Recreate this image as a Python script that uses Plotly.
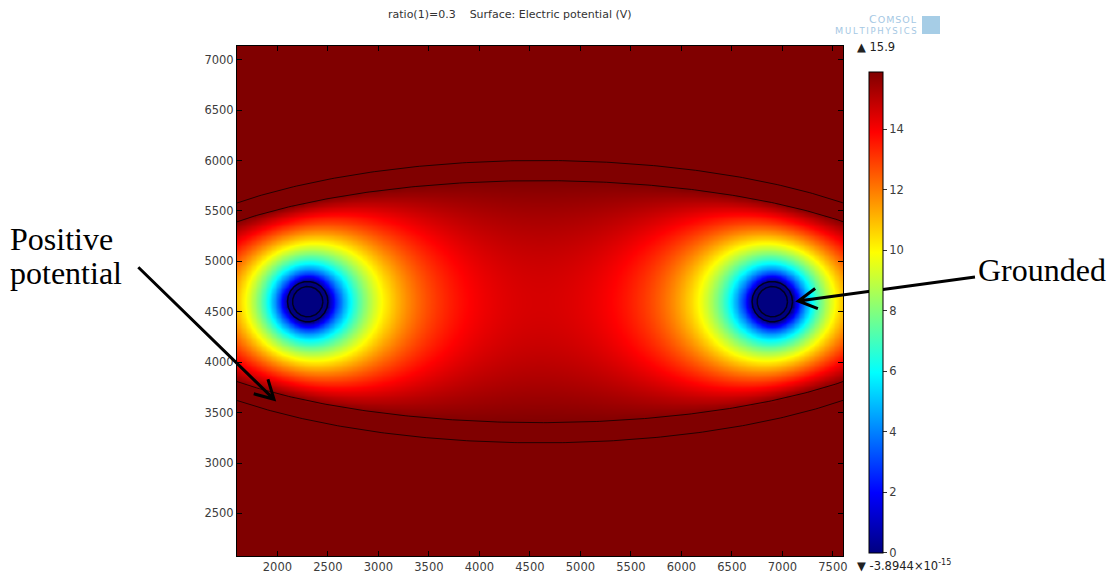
import numpy as np
import plotly.graph_objects as go

# ---- model geometry (model units) ----
ellipse_center = [4600.0, 4600.0]
inner_semi_axes = [4000.0, 1200.0]     # electrode boundary held at the positive potential
outer_semi_axes = [4200.0, 1400.0]
wire_x = [2300.0, 6900.0]
wire_y = [4600.0, 4600.0]
wire_radii = [150.0, 200.0]            # conductor and insulation outlines
ground_radius = 210.0                  # extent of the grounded region around each wire

# ---- potentials ----
v_positive = 15.9
v_ground = 0.0
v_max_label = "15.9"
v_min_label = "-3.8944×10<sup>-15</sup>"

# ---- axes ----
x_range = [1600, 7600]
y_range = [2078, 7135]
cbar_ticks = [0, 2, 4, 6, 8, 10, 12, 14]
title_text = "ratio(1)=0.3\u00a0\u00a0\u00a0 Surface: Electric potential (V)"

# ---- Laplace solve inside the inner ellipse (red-black SOR) ----
h = 25.0
sx = np.arange(575.0, 8625.0 + h / 2, h)
sy = np.arange(3375.0, 5825.0 + h / 2, h)
SX, SY = np.meshgrid(sx, sy)
cx, cy = ellipse_center
a_in, b_in = inner_semi_axes
inside = ((SX - cx) / a_in) ** 2 + ((SY - cy) / b_in) ** 2 < 1.0
grounded = np.zeros(SX.shape, dtype=bool)
for wx, wy in zip(wire_x, wire_y):
    grounded |= (SX - wx) ** 2 + (SY - wy) ** 2 <= ground_radius ** 2
free = inside & ~grounded
V = np.full(SX.shape, v_positive)
V[grounded] = v_ground
ii, jj = np.indices(V.shape)
masks = [free & ((ii + jj) % 2 == 0), free & ((ii + jj) % 2 == 1)]
omega = 1.94
for _ in range(2500):
    for m in masks:
        nb = 0.25 * (np.roll(V, 1, 0) + np.roll(V, -1, 0) + np.roll(V, 1, 1) + np.roll(V, -1, 1))
        V[m] += omega * (nb[m] - V[m])

# ---- surface grid covering the view ----
gx = np.arange(1600.0, 7600.0 + h / 2, h)
gy = np.arange(2075.0, 7150.0 + h / 2, h)
Z = np.full((len(gy), len(gx)), v_positive)
i0 = int(round((sy[0] - gy[0]) / h))
j0 = int(round((gx[0] - sx[0]) / h))
Z[i0:i0 + len(sy), :] = V[:, j0:j0 + len(gx)]

jet = [[0.0, "rgb(0,0,128)"], [0.125, "rgb(0,0,255)"], [0.375, "rgb(0,255,255)"],
       [0.625, "rgb(255,255,0)"], [0.875, "rgb(255,0,0)"], [1.0, "rgb(128,0,0)"]]

W, H = 1112, 579
ML, MR, MT, MB = 237, 269, 46, 23
PW, PH = W - ML - MR, H - MT - MB


def px(x):
    return (x - ML) / PW


def py(y):
    return (H - MB - y) / PH


fig = go.Figure()
fig.add_trace(go.Heatmap(
    x=gx, y=gy, z=Z, zmin=v_ground, zmax=v_positive, colorscale=jet, zsmooth="best",
    hoverinfo="skip",
    colorbar=dict(
        thickness=14, thicknessmode="pixels", len=481, lenmode="pixels",
        xref="paper", x=px(869), xanchor="left", xpad=0,
        yref="paper", y=py(552.7), yanchor="bottom", ypad=0,
        outlinewidth=1, outlinecolor="black",
        tickvals=cbar_ticks, ticks="outside", ticklen=4, tickcolor="#333",
        tickfont=dict(family="DejaVu Sans", size=11.5, color="#3c3c3c"),
    ),
))

# boundary outlines
t = np.linspace(0, 2 * np.pi, 721)
for sa, sb in (inner_semi_axes, outer_semi_axes):
    fig.add_trace(go.Scatter(x=cx + sa * np.cos(t), y=cy + sb * np.sin(t), mode="lines",
                             line=dict(color="rgba(20,0,0,0.85)", width=1), hoverinfo="skip"))
for wx, wy in zip(wire_x, wire_y):
    for r in wire_radii:
        fig.add_trace(go.Scatter(x=wx + r * np.cos(t), y=wy + r * np.sin(t), mode="lines",
                                 line=dict(color="rgba(0,0,20,0.9)", width=1.5), hoverinfo="skip"))

axis_style = dict(showline=True, linecolor="black", linewidth=1, mirror="ticks",
                  ticks="inside", ticklen=5, tickcolor="black", showgrid=False, zeroline=False,
                  dtick=500, tick0=0, automargin=False,
                  tickfont=dict(family="DejaVu Sans", size=11.5, color="#3c3c3c"))
fig.update_xaxes(range=x_range, **axis_style)
fig.update_yaxes(range=y_range, **axis_style)

logo_color = "rgb(165,200,228)"
hs = "\u200a"  # hair space for the logo's letter tracking

ann = []
ann.append(dict(text=title_text, x=px(510), y=py(15), xref="paper", yref="paper",
                showarrow=False, xanchor="center", yanchor="middle",
                font=dict(family="DejaVu Sans", size=11, color="#333")))
ann.append(dict(text="▲ " + v_max_label, x=px(855), y=py(46.7), xref="paper", yref="paper",
                showarrow=False, xanchor="left", yanchor="middle",
                font=dict(family="DejaVu Sans", size=11.5, color="#222")))
ann.append(dict(text="▼ " + v_min_label, x=px(855), y=py(565), xref="paper", yref="paper",
                showarrow=False, xanchor="left", yanchor="middle",
                font=dict(family="DejaVu Sans", size=11.5, color="#222")))
# logo
ann.append(dict(text="C" + hs + "<span style='font-size:9.5px'>" + hs.join("OMSOL") + "</span>",
                x=px(867), y=py(20), xref="paper", yref="paper", showarrow=False,
                xanchor="left", yanchor="middle",
                font=dict(family="DejaVu Sans", size=11, color=logo_color)))
ann.append(dict(text="M\u2009<span style='font-size:8.5px'>" + "\u2009".join("ULTIPHYSICS") + "</span>",
                x=px(833), y=py(30.5), xref="paper", yref="paper", showarrow=False,
                xanchor="left", yanchor="middle",
                font=dict(family="DejaVu Sans", size=9.5, color=logo_color)))
# callouts
serif = dict(family="Liberation Serif", size=32, color="black")
ann.append(dict(text="Positive", x=px(8), y=py(239), xref="paper", yref="paper",
                showarrow=False, xanchor="left", yanchor="middle", font=serif))
ann.append(dict(text="potential", x=px(8), y=py(273), xref="paper", yref="paper",
                showarrow=False, xanchor="left", yanchor="middle", font=serif))
ann.append(dict(text="Grounded", x=px(976), y=py(269.5), xref="paper", yref="paper",
                showarrow=False, xanchor="left", yanchor="middle", font=serif))
fig.update_layout(annotations=ann)


def arrow_path(tail, tip, head_len=21.0, half_angle=29.0):
    tx, ty = tail
    hx, hy = tip
    ang = np.arctan2(ty - hy, tx - hx)
    pts = []
    for s in (1, -1):
        aa = ang + s * np.radians(half_angle)
        pts.append((hx + head_len * np.cos(aa), hy + head_len * np.sin(aa)))
    p = lambda q: f"{px(q[0]):.5f},{py(q[1]):.5f}"
    return (f"M{p(tail)} L{p(tip)} M{p(pts[0])} L{p(tip)} L{p(pts[1])}")


shapes = [
    dict(type="path", xref="paper", yref="paper", path=arrow_path((138.3, 267.3), (274.0, 399.3)),
         line=dict(color="black", width=3)),
    dict(type="path", xref="paper", yref="paper", path=arrow_path((975.0, 277.0), (798.3, 301.0)),
         line=dict(color="black", width=3)),
    dict(type="rect", xref="paper", yref="paper", x0=px(922), x1=px(940), y0=py(34), y1=py(16),
         fillcolor="rgb(150,196,226)", line=dict(width=0), opacity=0.85),
]

fig.update_layout(
    width=W, height=H, margin=dict(l=ML, r=MR, t=MT, b=MB),
    paper_bgcolor="white", plot_bgcolor="white", showlegend=False, shapes=shapes,
)

fig.write_html("out.html")
